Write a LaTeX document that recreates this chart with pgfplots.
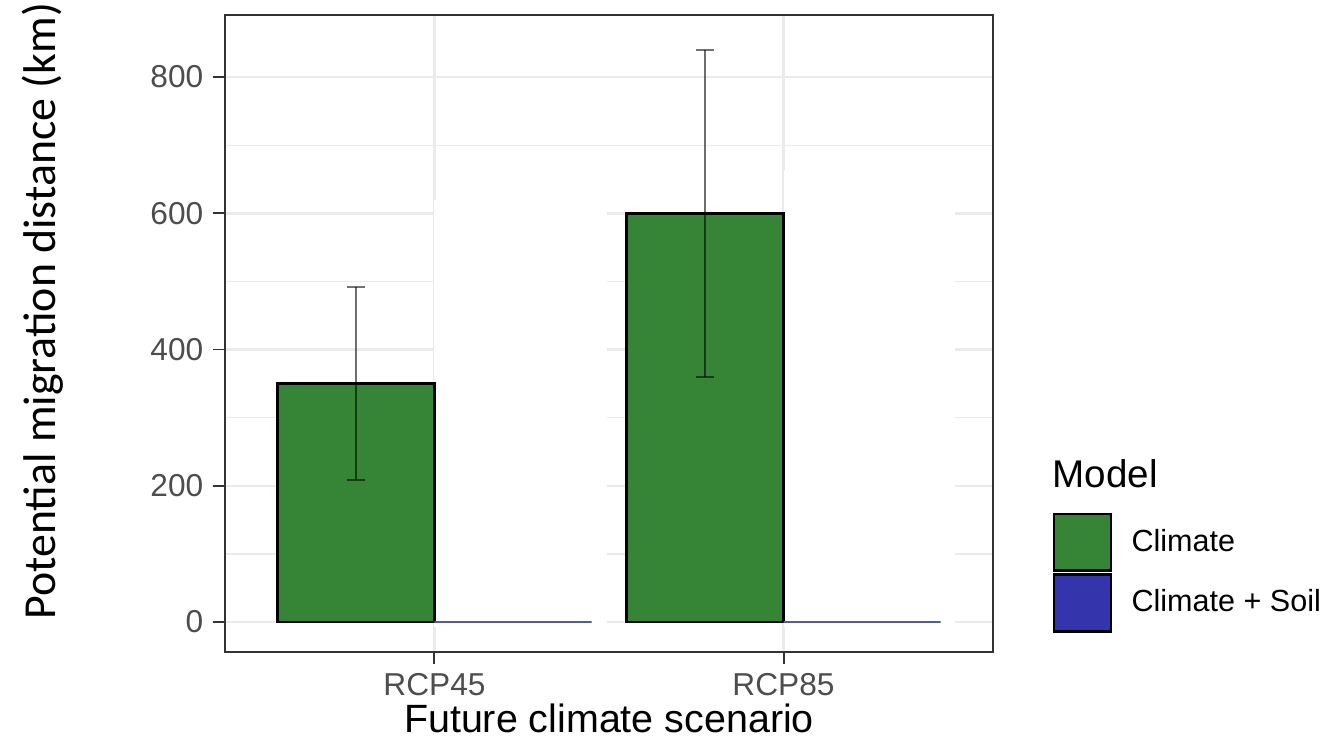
\documentclass[border=0pt]{standalone}
\usepackage{fontspec}
\setmainfont{Liberation Sans}
\newfontfamily\carlito{Carlito}
\usepackage{pgfplots}
\pgfplotsset{compat=1.18}

\definecolor{climgreen}{RGB}{54,132,54}
\definecolor{soilblue}{RGB}{52,52,172}
\definecolor{gridgray}{RGB}{235,235,235}
\definecolor{ticktext}{RGB}{77,77,77}
\definecolor{framegray}{RGB}{51,51,51}

\begin{document}
\begin{tikzpicture}
\begin{axis}[
  scale only axis, width=276.48pt, height=229.32pt,
  clip mode=individual,
  xmin=0.4, xmax=2.6, ymin=-44, ymax=891,
  xtick={1,2}, xticklabels={RCP45,RCP85},
  ytick={0,200,400,600,800},
  minor ytick={100,300,500,700},
  grid=both,
  major grid style={gridgray, line width=0.9pt},
  minor grid style={gridgray, line width=0.45pt},
  axis line style={framegray, line width=0.7pt},
  tick style={framegray, line width=0.7pt},
  major tick length=4.3pt, minor tick length=0pt,
  tick align=outside, xtick pos=bottom, ytick pos=left,
  /pgf/number format/assume math mode=true,
  ticklabel style={font=\fontsize{11.4}{13}\selectfont, text=ticktext},
  xlabel={Future climate scenario},
  xlabel style={font=\fontsize{14.2}{16}\selectfont, at={(axis description cs:0.5,-0.127)}, anchor=base},
  ylabel={\carlito Potential migration distance (km)},
  ylabel style={font=\fontsize{16.5}{19}\selectfont, at={(axis description cs:-0.238,0.535)}, anchor=center},
  legend image code/.code={\draw[#1, draw=black, line width=0.9pt] (0pt,-10.2pt) rectangle (20.5pt,10.2pt);},
  legend style={at={(1.077,0.2198)}, anchor=north west, draw=none, fill=none, inner sep=0pt,
    row sep=0.6pt, font=\fontsize{11}{13}\selectfont,
    /tikz/every odd column/.append style={column sep=5pt}},
  legend cell align=left,
]
% areas left blank next to each bar pair
\addplot[fill=white, draw=none, forget plot] coordinates {(1,-8) (1.493,-8) (1.493,619) (1,619)} -- cycle;
\addplot[fill=white, draw=none, forget plot] coordinates {(2,-8) (2.49,-8) (2.49,663) (2,663)} -- cycle;

% Climate model: mean distance with error bars
\addplot[ybar, bar width=0.45, bar shift=0pt, fill=climgreen, draw=black, line width=0.9pt,
  error bars/.cd, y dir=both, y explicit,
  error bar style={black, opacity=0.55, line width=0.7pt},
  error mark options={black, opacity=0.55, line width=0.7pt, mark size=3.2pt, rotate=90}]
  coordinates {(0.775,350) +- (0,142) (1.775,600) +- (0,240)};
\addlegendentry{Climate}

% Climate + Soil model
\addplot[ybar, bar width=0.45, bar shift=0pt, fill=soilblue, draw=soilblue!50!gray, line width=0.5pt]
  coordinates {(1.225,0) (2.225,0)};
\addlegendentry{Climate + Soil}

\node[anchor=base west, inner sep=0pt, font=\fontsize{13.9}{16}\selectfont] at (rel axis cs:1.077,0.259) {Model};
\end{axis}
\pgfresetboundingbox
\path[use as bounding box] (-81pt,-32.76pt) rectangle (396pt,234.72pt);
\end{tikzpicture}
\end{document}
